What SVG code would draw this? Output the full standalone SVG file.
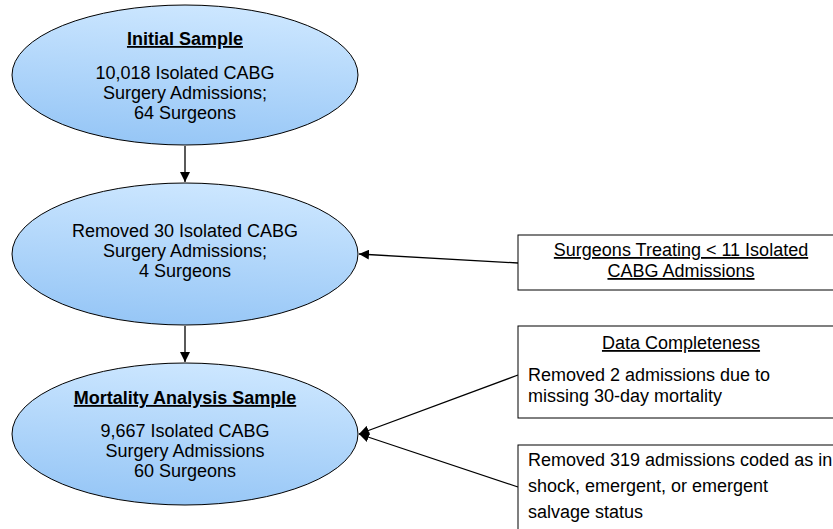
<svg xmlns="http://www.w3.org/2000/svg" width="833" height="529" viewBox="0 0 833 529">
<style>
text{font-family:"Liberation Sans",Arial,sans-serif;font-size:18px;fill:#000}
.c{text-anchor:middle}
.u{text-decoration:underline}
.b{font-weight:bold}
.ell{fill:url(#g);stroke:#000;stroke-width:1}
.box{fill:#fff;stroke:#000;stroke-width:1}
.con{stroke:#000;stroke-width:1.3;fill:none;marker-end:url(#ah)}
</style>
<defs>
<linearGradient id="g" x1="0.6" y1="0" x2="0.4" y2="1">
<stop offset="0" stop-color="#cde7ff"/>
<stop offset="1" stop-color="#96c6f6"/>
</linearGradient>
<marker id="ah" viewBox="0 0 10 10" refX="10" refY="5" markerWidth="10" markerHeight="10" markerUnits="userSpaceOnUse" orient="auto">
<path d="M0,0 L10,5 L0,10 z" fill="#000"/>
</marker>
</defs>
<rect width="833" height="529" fill="#fff"/>
<g id="connectors">
<line class="con" x1="185" y1="146" x2="185" y2="182"/>
<line class="con" x1="185" y1="326" x2="185" y2="362"/>
<line class="con" x1="518" y1="263" x2="359" y2="254"/>
<line class="con" x1="518" y1="375" x2="359" y2="434"/>
<line class="con" x1="518" y1="487" x2="359" y2="434"/>
</g>
<g id="initial">
<ellipse class="ell" cx="185" cy="75" rx="173" ry="70"/>
<text class="c b u" x="185" y="45">Initial Sample</text>
<text class="c" x="185" y="79">10,018 Isolated CABG</text>
<text class="c" x="185" y="99">Surgery Admissions;</text>
<text class="c" x="185" y="119">64 Surgeons</text>
</g>
<g id="removed">
<ellipse class="ell" cx="185" cy="254" rx="173" ry="71"/>
<text class="c" x="185" y="237">Removed 30 Isolated CABG</text>
<text class="c" x="185" y="257">Surgery Admissions;</text>
<text class="c" x="185" y="277">4 Surgeons</text>
</g>
<g id="mortality">
<ellipse class="ell" cx="185" cy="434" rx="173" ry="71"/>
<text class="c b u" x="185" y="404">Mortality Analysis Sample</text>
<text class="c" x="185" y="437">9,667 Isolated CABG</text>
<text class="c" x="185" y="457">Surgery Admissions</text>
<text class="c" x="185" y="477">60 Surgeons</text>
</g>
<g id="box-surgeons">
<rect class="box" x="518" y="235" width="330" height="55"/>
<text class="c u" x="681" y="256">Surgeons Treating &lt; 11 Isolated</text>
<text class="c u" x="681" y="277">CABG Admissions</text>
</g>
<g id="box-completeness">
<rect class="box" x="518" y="326" width="330" height="92"/>
<text class="c u" x="681" y="349">Data Completeness</text>
<text x="528" y="381">Removed 2 admissions due to</text>
<text x="528" y="402">missing 30-day mortality</text>
</g>
<g id="box-shock">
<rect class="box" x="518" y="445" width="330" height="100"/>
<text x="528" y="466">Removed 319 admissions coded as in</text>
<text x="528" y="492">shock, emergent, or emergent</text>
<text x="528" y="518">salvage status</text>
</g>
</svg>
